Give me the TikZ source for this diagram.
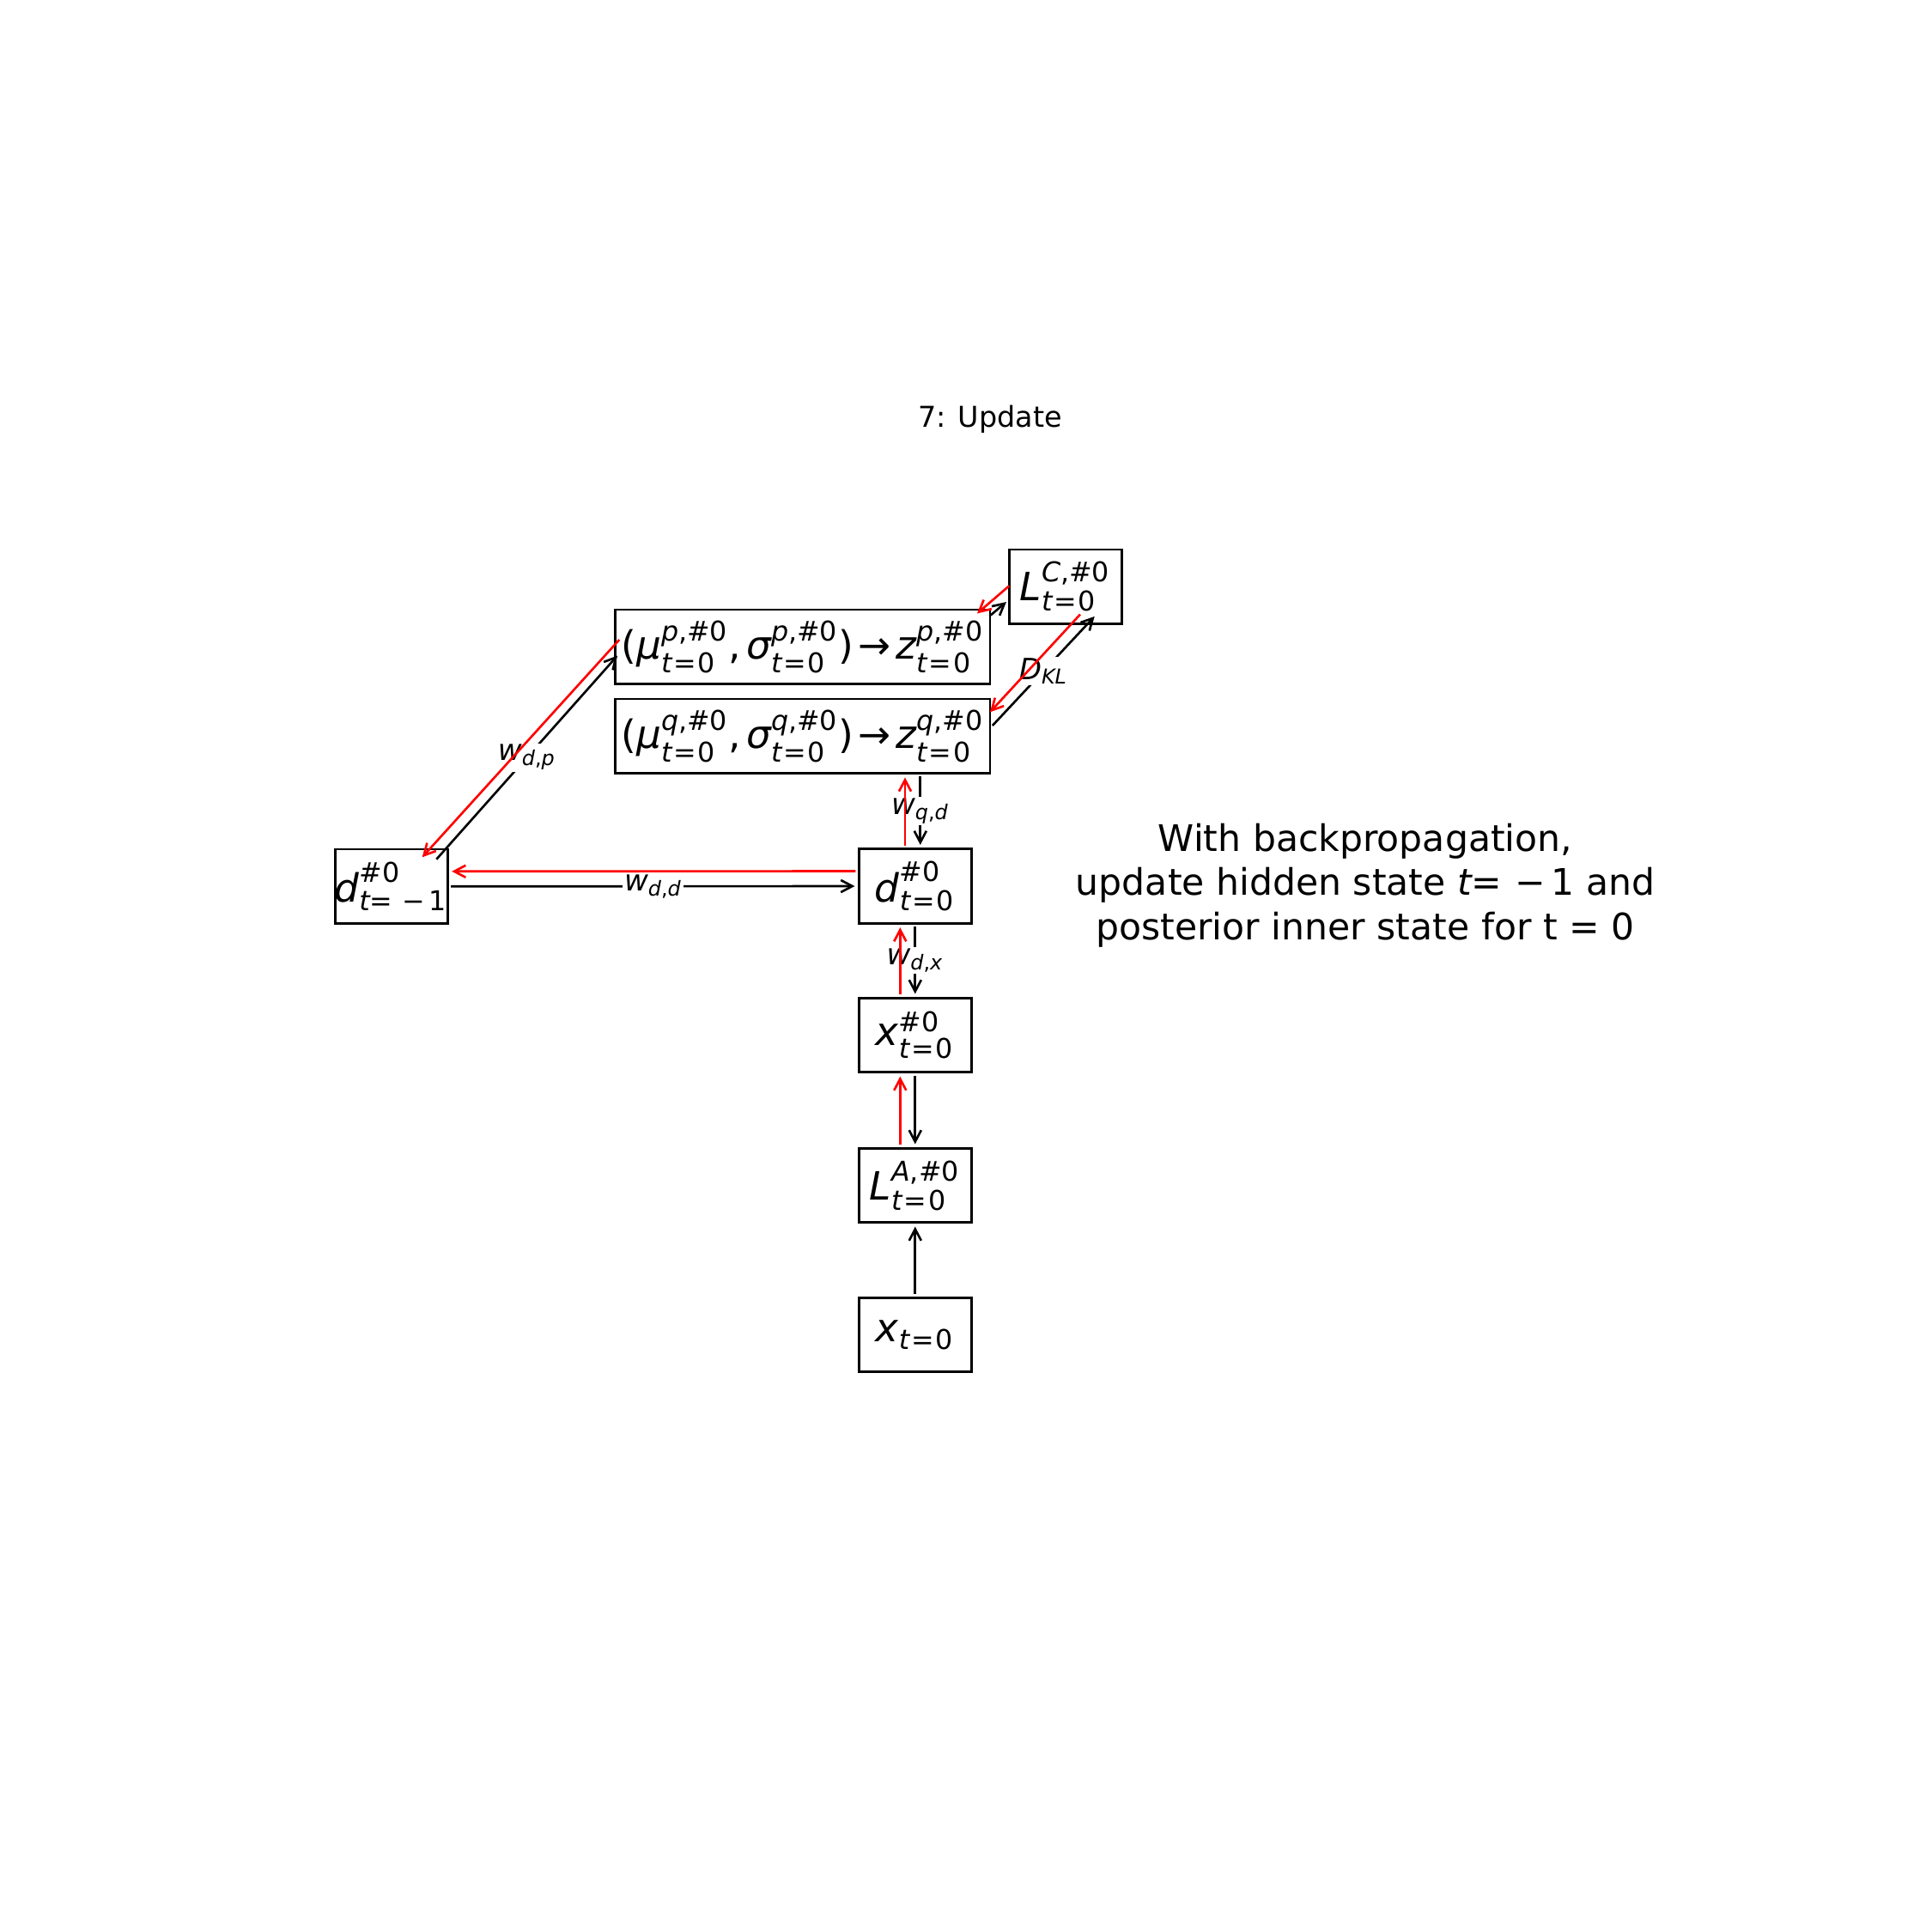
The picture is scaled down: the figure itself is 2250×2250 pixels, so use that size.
\documentclass[tikz,border=0pt]{standalone}
\usepackage{fontspec}
\usepackage{amsmath}
\setmainfont{DejaVu Sans}[ItalicFont={DejaVu Sans Oblique}]
\usetikzlibrary{arrows.meta,calc}

% symbols set in the sans text font
\newcommand{\vi}[1]{\text{\itshape #1}}
\newcommand{\vu}[1]{\text{\upshape #1}}
\newcommand{\tz}{\vi{t}\vu{\kern.06em=\kern.06em0}}
\newcommand{\tm}{\vi{t}\vu{=\kern.35em−\kern.15em1}}
\newcommand{\hz}{\vu{\#0}}
\newcommand{\rel}[1]{\vu{\kern.12em#1\kern.12em}}
\newcommand{\cm}{\vu{,\kern.13em}}
% box contents never widen the box
\newcommand{\nb}[1]{\makebox[0pt]{#1}}

\begin{document}
\begin{tikzpicture}[x=0.01cm,y=-0.01cm,
  box/.style={draw,line width=0.75pt,inner sep=0pt,minimum height=0.865cm,
    font=\fontsize{12.9}{15}\selectfont},
  small/.style={box,minimum width=1.31cm},
  wide/.style={box,minimum width=4.364cm},
  tip/.style={-{Straight Barb[length=3.8pt,width=4pt]}},
  fwd/.style={draw=black,line width=0.75pt,tip,shorten <=0.7pt,shorten >=1pt},
  bwd/.style={draw=red,line width=0.75pt,tip,shorten <=0.7pt,shorten >=1pt},
  tight/.style={shorten <=0pt,shorten >=0pt},
  lab/.style={fill=white,inner sep=0.5pt,font=\fontsize{9.7}{11}\selectfont},
]
\useasboundingbox (0,0) rectangle (2250,2250);

\node[font=\fontsize{9.5}{11}\selectfont,anchor=base] (title) at (1153,497) {7: Update};

% nodes
\node[small] (LC) at (1240.8,683.3) {\nb{$\vi{L}^{\vi{C}\vu{,\#0}}_{\tz}$}};
\node[wide] (P) at (934.8,753.3) {\nb{$\vu{(}\vi{μ}^{\vi{p}\vu{,\#0}}_{\tz}\cm\vi{σ}^{\vi{p}\vu{,\#0}}_{\tz}\vu{)}\rel{→}\vi{z}^{\vi{p}\vu{,\#0}}_{\tz}$}};
\node[wide] (Q) at (934.8,857.3) {\nb{$\vu{(}\vi{μ}^{\vi{q}\vu{,\#0}}_{\tz}\cm\vi{σ}^{\vi{q}\vu{,\#0}}_{\tz}\vu{)}\rel{→}\vi{z}^{\vi{q}\vu{,\#0}}_{\tz}$}};
\node[small] (Dm1) at (455.8,1032.3) {\nb{$\vi{d}^{\hz}_{\tm}$}};
\node[small] (D0) at (1065.8,1032) {\nb{$\vi{d}^{\hz}_{\tz}$}};
\node[small] (X0) at (1065.8,1205.5) {\nb{$\vi{x}^{\hz}_{\tz}$}};
\node[small] (LA) at (1065.8,1380.5) {\nb{$\vi{L}^{\vi{A}\vu{,\#0}}_{\tz}$}};
\node[small] (XT) at (1065.8,1554.5) {\nb{$\vi{x}_{\tz}$}};

\node[align=center,font=\fontsize{12.1}{14.6}\selectfont] (note) at (1590,1031)
  {With backpropagation,\\update hidden state {\itshape t}=\kern.35em−\kern.15em1 and\\posterior inner state for t = 0};

% forward pass
\draw[fwd,tight] ($(Dm1.center)+(52.5,-31.6)$) -- ($(P.west)+(4,10.2)$)
  node[midway,lab] {$\vi{w}_{\vi{d}\vu{,}\vi{p}}$};
\draw[fwd] (Dm1.east) -- (D0.west)
  node[midway,lab] {$\vi{w}_{\vi{d}\vu{,}\vi{d}}$};
\draw[fwd] ($(D0.north |- Q.south)+(6,0)$) -- ($(D0.north)+(6,0)$)
  node[midway,lab] {$\vi{w}_{\vi{q}\vu{,}\vi{d}}$};
\draw[fwd] (D0.south) -- (X0.north)
  node[midway,lab] {$\vi{w}_{\vi{d}\vu{,}\vi{x}}$};
\draw[fwd] (X0.south) -- (LA.north);
\draw[fwd] (XT.north) -- (LA.south);
\draw[fwd,tight] ($(P.north east)+(-0.7,7.7)$) -- ($(LC.west)+(-2,17.7)$);
\draw[fwd,tight] ($(Q.east)+(1.4,-12.3)$) -- ($(LC.south)+(33.9,-10)$)
  node[midway,lab] {$\vi{D}_{\vi{KL}}$};

% backward pass
\draw[bwd,tight] ($(P.west)+(6.1,-8.3)$) -- ($(Dm1.center)+(35.9,-34)$);
\draw[bwd] ($(D0.west)+(0,-17.5)$) -- ($(Dm1.east)+(0,-17.5)$);
\draw[bwd] ($(D0.north)+(-11.8,0)$) -- ($(D0.north |- Q.south)+(-11.8,0)$);
\draw[bwd] ($(X0.north)+(-17.5,0)$) -- ($(D0.south)+(-17.5,0)$);
\draw[bwd] ($(LA.north)+(-17.5,0)$) -- ($(X0.south)+(-17.5,0)$);
\draw[bwd,tight] ($(LC.west)+(1.3,-1)$) -- ($(P.north east)+(-16.5,5.7)$);
\draw[bwd,tight] ($(LC.south)+(17.2,-12.4)$) -- ($(Q.east)+(-1.5,-28)$);
\end{tikzpicture}
\end{document}
